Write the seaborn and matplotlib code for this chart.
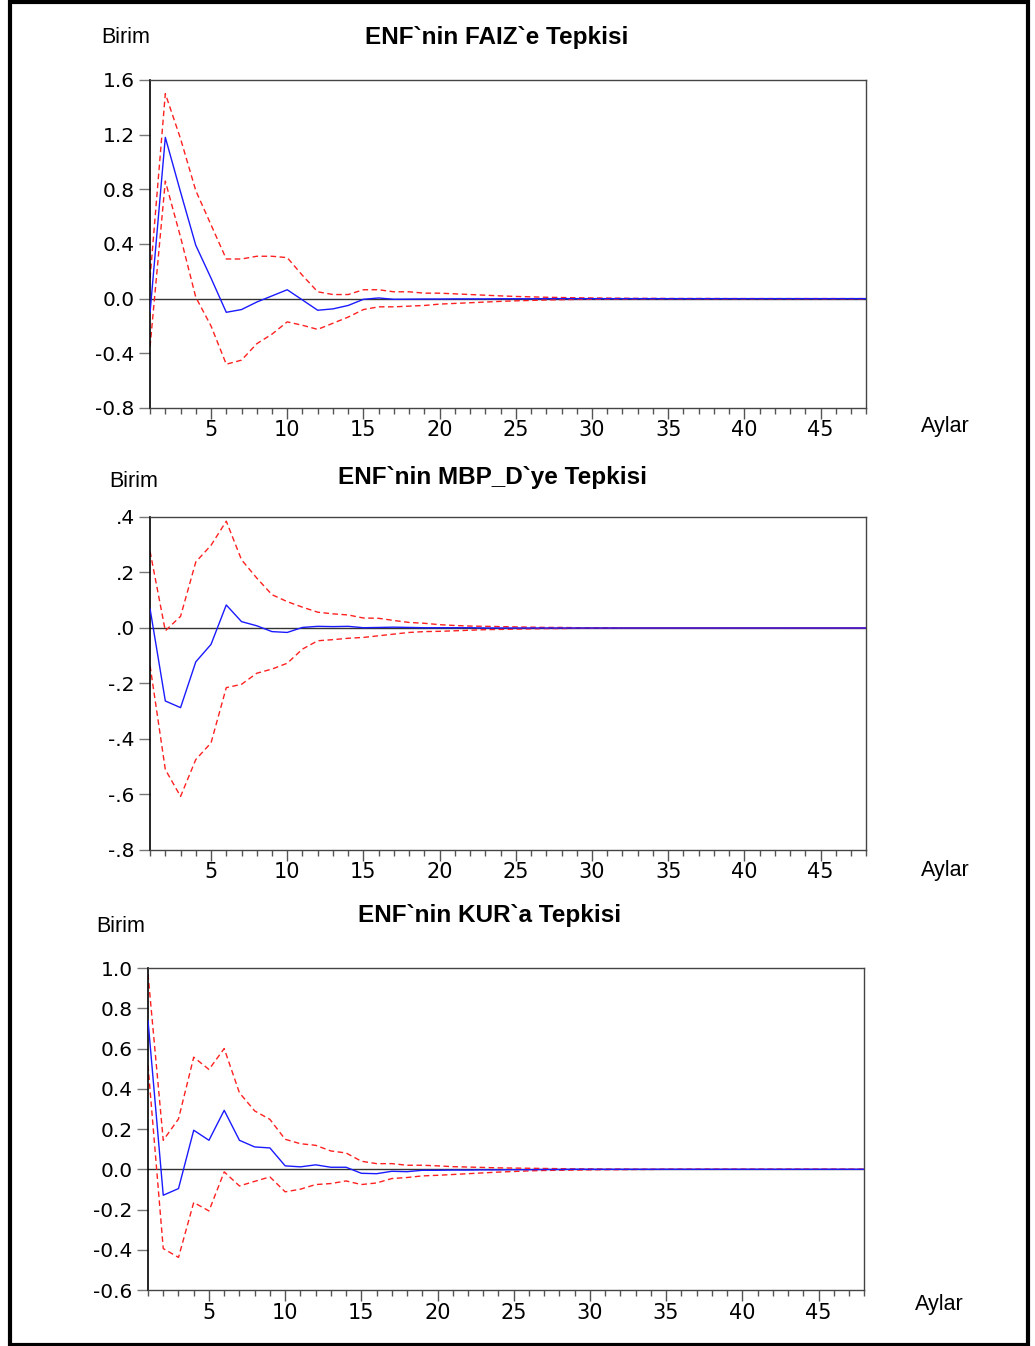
import matplotlib
matplotlib.use('agg')
import matplotlib.pyplot as plt
from matplotlib.patches import Rectangle
from matplotlib.ticker import FixedLocator, MultipleLocator, FuncFormatter
import seaborn as sns

sns.set_style('white')
plt.rcParams['font.family'] = ['DejaVu Sans']
plt.rcParams['text.color'] = 'black'
plt.rcParams['xtick.labelcolor'] = 'black'
plt.rcParams['ytick.labelcolor'] = 'black'

# aylar (horizon 1..48)
steps = list(range(1, 49))

# ENF'nin FAIZ'e tepkisi
faiz_resp = [-0.10, 1.18, 0.78, 0.39, 0.15, -0.10, -0.08, -0.025, 0.02, 0.065,
             -0.01, -0.085, -0.075, -0.05, -0.005, 0.005, -0.005, -0.004, -0.003, -0.003,
             -0.002, -0.002, -0.002, -0.001, -0.001, -0.001] + [0.0] * 22
faiz_up = [0.15, 1.50, 1.17, 0.79, 0.54, 0.29, 0.29, 0.31, 0.31, 0.30,
           0.17, 0.05, 0.03, 0.03, 0.065, 0.065, 0.05, 0.05, 0.04, 0.04,
           0.035, 0.03, 0.025, 0.02, 0.016, 0.013, 0.01, 0.008, 0.006, 0.005,
           0.004, 0.003, 0.002, 0.002, 0.001, 0.001, 0.001, 0.001] + [0.0] * 10
faiz_lo = [-0.35, 0.86, 0.45, 0.01, -0.20, -0.48, -0.45, -0.33, -0.26, -0.17,
           -0.195, -0.225, -0.18, -0.135, -0.08, -0.06, -0.06, -0.055, -0.05, -0.04,
           -0.035, -0.03, -0.025, -0.02, -0.016, -0.013, -0.01, -0.008, -0.006, -0.005,
           -0.004, -0.003, -0.002, -0.002, -0.001, -0.001, -0.001, -0.001] + [0.0] * 10

# ENF'nin MBP_D'ye tepkisi
mbp_resp = [0.069, -0.263, -0.287, -0.122, -0.059, 0.083, 0.023, 0.008, -0.013, -0.016,
            0.002, 0.006, 0.005, 0.006, 0.001, 0.002, 0.003, 0.002, 0.001, 0.001,
            0.001, 0.001] + [0.0] * 26
mbp_up = [0.276, -0.01, 0.042, 0.238, 0.298, 0.385, 0.246, 0.18, 0.12, 0.095,
          0.075, 0.057, 0.051, 0.047, 0.036, 0.035, 0.027, 0.02, 0.017, 0.012,
          0.009, 0.007, 0.006, 0.005, 0.004, 0.003, 0.002, 0.002, 0.001, 0.001,
          0.001] + [0.0] * 17
mbp_lo = [-0.136, -0.51, -0.607, -0.474, -0.414, -0.215, -0.203, -0.163, -0.148, -0.127,
          -0.076, -0.046, -0.042, -0.037, -0.034, -0.028, -0.022, -0.016, -0.013, -0.012,
          -0.01, -0.008, -0.006, -0.005, -0.004, -0.003, -0.002, -0.002, -0.001, -0.001,
          -0.001] + [0.0] * 17

# ENF'nin KUR'a tepkisi
kur_resp = [0.74, -0.129, -0.096, 0.194, 0.144, 0.293, 0.144, 0.111, 0.106, 0.017,
            0.012, 0.022, 0.01, 0.01, -0.02, -0.022, -0.01, -0.012, -0.005, -0.005,
            -0.004, -0.004, -0.003, -0.003, -0.002, -0.002, -0.001, -0.001] + [0.0] * 20
kur_up = [0.97, 0.144, 0.25, 0.557, 0.496, 0.60, 0.38, 0.29, 0.248, 0.149,
          0.127, 0.119, 0.091, 0.081, 0.04, 0.028, 0.028, 0.02, 0.02, 0.017,
          0.013, 0.011, 0.009, 0.007, 0.006, 0.005, 0.004, 0.003, 0.002, 0.002,
          0.001, 0.001] + [0.0] * 16
kur_lo = [0.516, -0.394, -0.438, -0.165, -0.207, -0.013, -0.083, -0.06, -0.038, -0.112,
          -0.099, -0.076, -0.071, -0.058, -0.076, -0.068, -0.046, -0.041, -0.033, -0.03,
          -0.026, -0.022, -0.018, -0.014, -0.011, -0.008, -0.006, -0.005, -0.004, -0.003,
          -0.002, -0.002, -0.001, -0.001] + [0.0] * 14

titles = ["ENF`nin FAIZ`e Tepkisi", "ENF`nin MBP_D`ye Tepkisi", "ENF`nin KUR`a Tepkisi"]
xtick_labels = [5, 10, 15, 20, 25, 30, 35, 40, 45]

panels = [
    dict(resp=faiz_resp, up=faiz_up, lo=faiz_lo, ylim=(-0.8, 1.6), yticks=[-0.8, -0.4, 0.0, 0.4, 0.8, 1.2, 1.6],
         fmt=lambda v, p: f"{v:.1f}", rect=[0.145, 0.6969, 0.692, 0.2437],
         birim=(0.1217, 0.9718), title=(0.480, 0.9718), aylar=(0.913, 0.6828)),
    dict(resp=mbp_resp, up=mbp_up, lo=mbp_lo, ylim=(-0.8, 0.4), yticks=[-0.8, -0.6, -0.4, -0.2, 0.0, 0.2, 0.4],
         fmt=lambda v, p: f"{v:.1f}".replace("0.", ".", 1), rect=[0.145, 0.3685, 0.692, 0.2474],
         birim=(0.1295, 0.6426), title=(0.4763, 0.6456), aylar=(0.913, 0.3536)),
    dict(resp=kur_resp, up=kur_up, lo=kur_lo, ylim=(-0.6, 1.0), yticks=[-0.6, -0.4, -0.2, 0.0, 0.2, 0.4, 0.6, 0.8, 1.0],
         fmt=lambda v, p: f"{v:.1f}", rect=[0.143, 0.0416, 0.692, 0.2392],
         birim=(0.1169, 0.3120), title=(0.4734, 0.3195), aylar=(0.908, 0.0305)),
]

fig = plt.figure(figsize=(10.35, 13.46), dpi=100)
txtfont = ['Liberation Sans', 'DejaVu Sans']

for i, pn in enumerate(panels):
    ax = fig.add_axes(pn['rect'])
    ax.axhline(0, color='#333333', lw=1.0, zorder=1)
    sns.lineplot(x=steps, y=pn['up'], ax=ax, color='#ff2020', lw=1.0, zorder=2)
    sns.lineplot(x=steps, y=pn['lo'], ax=ax, color='#ff2020', lw=1.0, zorder=2)
    for ln in ax.lines[-2:]:
        ln.set_dashes((4, 2.5))
    sns.lineplot(x=steps, y=pn['resp'], ax=ax, color='#1a1aff', lw=1.0, zorder=3)
    ax.set_xlim(1, 48)
    ax.set_ylim(*pn['ylim'])
    ax.xaxis.set_major_locator(FixedLocator(xtick_labels))
    ax.xaxis.set_minor_locator(MultipleLocator(1))
    ax.set_yticks(pn['yticks'])
    ax.yaxis.set_major_formatter(FuncFormatter(pn['fmt']))
    ax.tick_params(axis='x', which='major', direction='out', length=8, width=1, color='#555555',
                   labelsize=15, pad=1, bottom=True)
    ax.tick_params(axis='x', which='minor', direction='out', length=4, width=1, color='#555555', bottom=True)
    ax.tick_params(axis='y', which='major', direction='out', length=8, width=1, color='#777777',
                   labelsize=14.5, pad=3, left=True)
    for side in ['top', 'right', 'bottom']:
        ax.spines[side].set_color('#444444')
        ax.spines[side].set_linewidth(1.0)
    ax.spines['left'].set_color('black')
    ax.spines['left'].set_linewidth(1.2)
    ax.set_xlabel('')
    ax.set_ylabel('')

    fig.text(*pn['birim'], 'Birim', ha='center', va='center', fontsize=15.5, family=txtfont)
    fig.text(*pn['title'], titles[i], ha='center', va='center', fontsize=17.5, fontweight='bold', family=txtfont)
    fig.text(*pn['aylar'], 'Aylar', ha='center', va='center', fontsize=15.5, family=txtfont)

# outer frame
fig.patches.append(Rectangle((10 / 1035, 0.001), 1018 / 1035, 1 - 3 / 1346, transform=fig.transFigure,
                             fill=False, lw=3, edgecolor='black'))

fig.savefig('out.png', dpi=100)
